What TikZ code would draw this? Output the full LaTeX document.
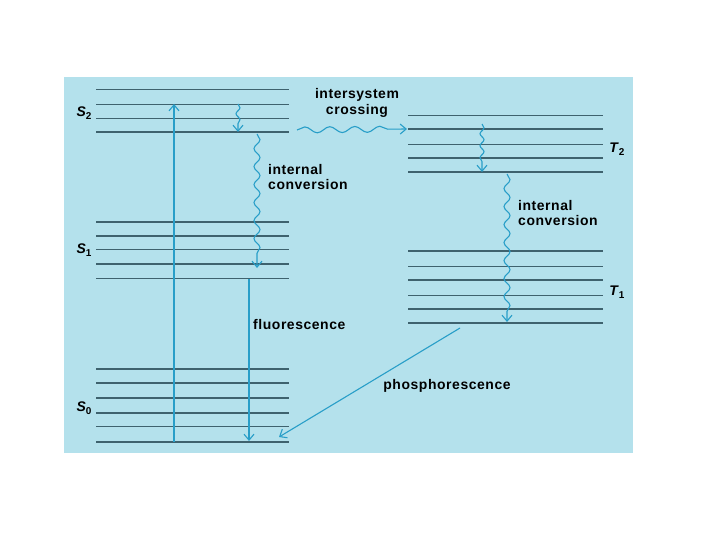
\documentclass[tikz,border=0pt]{standalone}
\usepackage{fontspec}
\setmainfont{Liberation Sans}
\usetikzlibrary{arrows.meta, positioning, decorations.pathmorphing}

\definecolor{panelblue}{RGB}{180,225,236}
\definecolor{levelgray}{RGB}{62,98,110}
\definecolor{arrowblue}{RGB}{40,158,200}
\newcommand{\statename}[2]{\textbf{\textit{#1}}\raisebox{-0.4ex}{\fontsize{10}{10}\selectfont\textbf{#2}}}

\begin{document}
\begin{tikzpicture}[
        x=1bp, y=-1bp,
        level/.style={draw=levelgray, line width=0.9bp},
        major/.style={level, line width=1.7bp},
        trans/.style={draw=arrowblue, line width=1.1bp, -{Straight Barb[length=6bp, width=10bp]}},
        wavy/.style={trans, decorate, decoration={snake, segment length=18bp, amplitude=3bp, post length=7bp}},
        smallwavy/.style={wavy, decoration={snake, segment length=12bp, amplitude=2bp, post length=6bp}},
        lab/.style={font=\fontsize{14}{15.5}\selectfont\bfseries\addfontfeature{LetterSpace=4}, inner sep=0pt},
        statelab/.style={font=\fontsize{14}{14}\selectfont, inner sep=0pt}
    ]
    % Panel
    \fill[panelblue] (64,77) rectangle (633,453);
    \useasboundingbox (0,0) rectangle (720,540);

    % Singlet levels
    \foreach \y/\s in {89/level, 104/level, 118/level, 132/major,
                       222/major, 236/major, 249/level, 264/major, 278/level,
                       369/major, 383/major, 398/major, 413/major, 426/level, 442/major}
        \draw[\s] (96,\y) -- (289,\y);

    % Triplet levels
    \foreach \y/\s in {115/level, 129/major, 144/level, 158/major, 172/major,
                       251/major, 266/level, 280/major, 295/level, 309/major, 323/major}
        \draw[\s] (408,\y) -- (603,\y);

    % State labels
    \node[statelab] (s2lab) at (84,113) {\statename{S}{2}};
    \node[statelab] (s1lab) at (84,250) {\statename{S}{1}};
    \node[statelab] (s0lab) at (84,408) {\statename{S}{0}};
    \node[statelab] (t2lab) at (617,149) {\statename{T}{2}};
    \node[statelab] (t1lab) at (617,292) {\statename{T}{1}};

    % Transition end points
    \coordinate (absbot) at (174,442);
    \coordinate (abstop) at (174,104);
    \coordinate (s2hi) at (238,104);
    \coordinate (s2lo) at (238,132);
    \coordinate (ictop) at (257,134);
    \coordinate (icbot) at (257,268);
    \coordinate (fltop) at (249,279);
    \coordinate (flbot) at (249,441);
    \coordinate (iscfrom) at (297,130);
    \coordinate (iscto) at (407,129);
    \coordinate (t2hi) at (482,124);
    \coordinate (t2lo) at (482,172);
    \coordinate (tictop) at (507,174);
    \coordinate (ticbot) at (507,322);
    \coordinate (phfrom) at (460,328);
    \coordinate (phto) at (279,437);

    % Transitions
    \draw[trans] (absbot) -- (abstop);
    \draw[smallwavy] (s2hi) -- (s2lo);
    \draw[wavy] (ictop) -- (icbot);
    \draw[trans] (fltop) -- (flbot);
    \draw[wavy, decoration={segment length=25bp}] (iscfrom) -- (iscto);
    \draw[smallwavy] (t2hi) -- (t2lo);
    \draw[wavy] (tictop) -- (ticbot);
    \draw[trans] (phfrom) -- (phto);

    % Labels
    \node[lab, align=center] (isclab) at (357,103) {intersystem\\crossing};
    \node[lab, align=left, anchor=west] (iclab) at (268,177) {internal\\conversion};
    \node[lab, anchor=west] (fllab) at (253,325) {fluorescence};
    \node[lab, align=left, anchor=west] (ticlab) at (518,213) {internal\\conversion};
    \node[lab] (phlab) at (447,386) {phosphorescence};
\end{tikzpicture}
\end{document}
